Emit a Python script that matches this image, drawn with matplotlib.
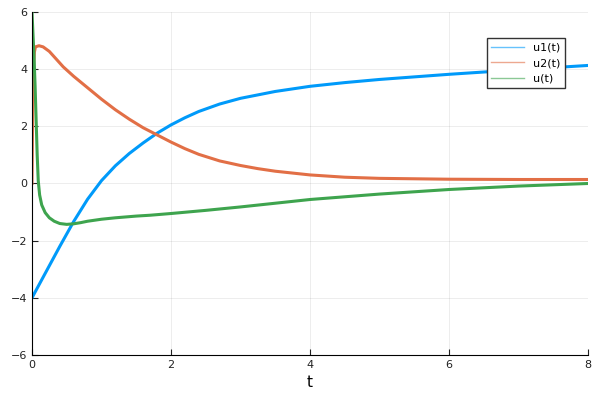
import matplotlib
matplotlib.use("Agg")
import matplotlib.pyplot as plt

# u1(t)
t_u1 = [0, 0.2, 0.4, 0.6, 0.8, 1.0, 1.2, 1.4, 1.6, 1.8, 2.0, 2.2, 2.4, 2.7, 3.0, 3.5,
        4.0, 4.5, 5.0, 6.0, 7.0, 8.0]
u1 = [-4.0, -3.1, -2.2, -1.33, -0.55, 0.1, 0.62, 1.05, 1.42, 1.76, 2.05, 2.3, 2.52, 2.78, 2.98, 3.22,
      3.4, 3.53, 3.64, 3.82, 3.98, 4.13]

# u2(t)
t_u2 = [0, 0.01, 0.02, 0.035, 0.05, 0.1, 0.16, 0.25, 0.35, 0.45, 0.6, 0.8, 1.0, 1.2, 1.4, 1.6,
        1.8, 2.0, 2.2, 2.4, 2.7, 3.0, 3.25, 3.5, 4.0, 4.5, 5.0, 6.0, 7.0, 8.0]
u2 = [0.0, 2.5, 4.0, 4.6, 4.78, 4.82, 4.78, 4.62, 4.35, 4.08, 3.75, 3.35, 2.95, 2.58, 2.25, 1.95,
      1.70, 1.45, 1.22, 1.02, 0.79, 0.63, 0.52, 0.43, 0.30, 0.22, 0.18, 0.15, 0.14, 0.14]

# u(t)
t_u = [0, 0.015, 0.03, 0.045, 0.06, 0.075, 0.09, 0.11, 0.14, 0.19, 0.25, 0.32, 0.4, 0.5, 0.6, 0.7,
       0.8, 1.0, 1.2, 1.5, 1.7, 2.0, 2.5, 3.0, 3.5, 4.0, 5.0, 6.0, 7.0, 8.0]
u = [6.0, 5.2, 4.4, 3.4, 2.2, 1.0, 0.1, -0.4, -0.75, -1.02, -1.2, -1.32, -1.40, -1.43, -1.41, -1.37,
     -1.32, -1.25, -1.2, -1.14, -1.11, -1.05, -0.94, -0.82, -0.69, -0.56, -0.37, -0.21, -0.09, 0.0]

fig = plt.figure(figsize=(6, 4), dpi=100)
ax = fig.add_axes([0.0533, 0.1125, 0.9267, 0.8575])

ax.plot(t_u1, u1, color="#009AFA", lw=2.2, label="u1(t)")
ax.plot(t_u2, u2, color="#E26F46", lw=2.2, label="u2(t)")
ax.plot(t_u, u, color="#3EA44E", lw=2.2, label="u(t)")

ax.set_xlim(0, 8)
ax.set_ylim(-6, 6)
ax.set_xticks([0, 2, 4, 6, 8])
ax.set_yticks([-6, -4, -2, 0, 2, 4, 6])
ax.grid(True, color="black", alpha=0.1, lw=0.5)
ax.spines["top"].set_visible(False)
ax.spines["right"].set_visible(False)
ax.tick_params(direction="in", length=4, labelsize=8, colors="#222222")
ax.set_xlabel("t", fontsize=11)

leg = ax.legend(loc="upper right", bbox_to_anchor=(0.969, 0.94), fontsize=8, fancybox=False,
                framealpha=1, edgecolor="#333333", handlelength=3)
for line in leg.get_lines():
    line.set_linewidth(1.0)
    line.set_alpha(0.6)

fig.savefig("out.png")
